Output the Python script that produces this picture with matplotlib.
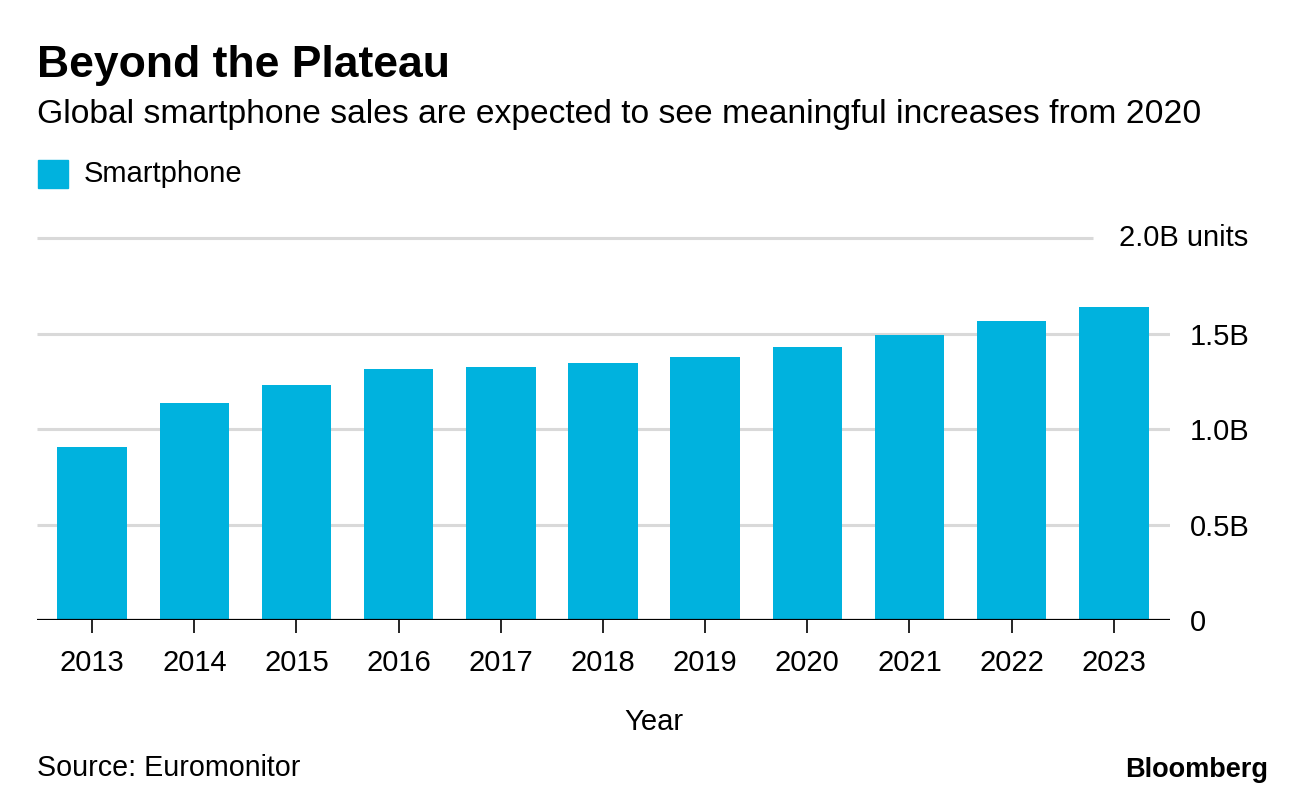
import matplotlib.pyplot as plt

plt.rcParams['font.family'] = ['Liberation Sans', 'DejaVu Sans']

# data (billion units)
years = ['2013', '2014', '2015', '2016', '2017', '2018', '2019', '2020', '2021', '2022', '2023']
sales = [0.906, 1.136, 1.230, 1.314, 1.325, 1.346, 1.377, 1.429, 1.492, 1.565, 1.639]
y_ticks = [0, 0.5, 1.0, 1.5]
y_labels = ['0', '0.5B', '1.0B', '1.5B']

bar_color = '#00b2de'
grid_color = '#d9d9d9'

fig = plt.figure(figsize=(12.96, 8), dpi=100)
ax = fig.add_axes([37 / 1296, 1 - 620 / 800, (1170 - 37) / 1296, (620 - 238) / 800])

x = range(len(years))
ax.bar(x, sales, width=0.68, color=bar_color, zorder=2)

ax.set_xlim(-0.54, len(years) - 1 + 0.55)
ax.set_ylim(0, 2.0)

# gridlines
ax.hlines(y_ticks[1:], -0.54, len(years) - 1 + 0.55, color=grid_color, lw=2.2, zorder=1)
ax.hlines(2.0, -0.54, 9.8, color=grid_color, lw=2.2, zorder=1, clip_on=False)
ax.axhline(0, color='black', lw=1.6, zorder=3)

for s in ax.spines.values():
    s.set_visible(False)

ax.set_xticks(list(x))
ax.set_xticklabels(years, fontsize=21)
ax.tick_params(axis='x', length=9, width=1.2, pad=12, color='black')

ax.yaxis.tick_right()
ax.set_yticks(y_ticks)
ax.set_yticklabels(y_labels, fontsize=21)
ax.tick_params(axis='y', length=0, pad=14)
ax.text(1248 / 1296, 1 - 238 / 800, '2.0B units', transform=fig.transFigure,
        ha='right', va='center', fontsize=21)

fig.text(654 / 1296, 1 - 722 / 800, 'Year', fontsize=21, va='center', ha='center')

# title, subtitle, legend
fig.text(37 / 1296, 1 - 65 / 800, 'Beyond the Plateau', fontsize=32, fontweight='bold',
         va='center', ha='left')
fig.text(37 / 1296, 1 - 115 / 800,
         'Global smartphone sales are expected to see meaningful increases from 2020',
         fontsize=24.2, va='center', ha='left')
fig.patches.append(plt.Rectangle((38 / 1296, 1 - 188 / 800), 30 / 1296, 28 / 800,
                                 transform=fig.transFigure, color=bar_color))
fig.text(84 / 1296, 1 - 174 / 800, 'Smartphone', fontsize=21, va='center', ha='left')

# footer
fig.text(37 / 1296, 1 - 768 / 800, 'Source: Euromonitor', fontsize=20.6, va='center', ha='left')
fig.text(1268 / 1296, 1 - 770 / 800, 'Bloomberg', fontsize=19.5, fontweight='bold',
         va='center', ha='right')

plt.savefig('out.png', dpi=100)
